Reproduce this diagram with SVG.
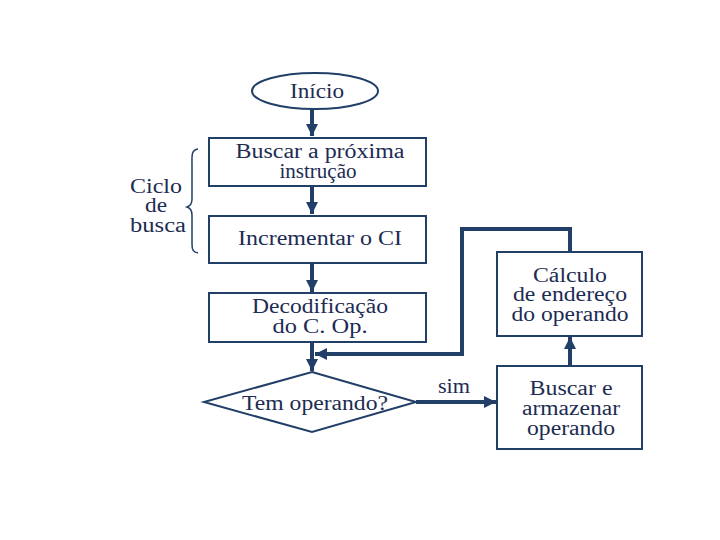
<svg xmlns="http://www.w3.org/2000/svg" width="720" height="540" viewBox="0 0 720 540">
<style>
.n{fill:#ffffff;stroke:#223f68;stroke-width:2}
.c{fill:none;stroke:#223f68;stroke-width:4}
</style>
<defs>
<marker id="ah" viewBox="0 0 10 10" refX="10" refY="5" markerWidth="3" markerHeight="3" markerUnits="strokeWidth" orient="auto">
<path d="M0,0 L10,5 L0,10 z" fill="#223f68"/>
</marker>
</defs>
<rect width="720" height="540" fill="#ffffff"/>
<g id="connectors">
<line class="c" x1="312" y1="109" x2="312" y2="136" marker-end="url(#ah)"/>
<line class="c" x1="312" y1="186" x2="312" y2="214" marker-end="url(#ah)"/>
<line class="c" x1="312" y1="263" x2="312" y2="292" marker-end="url(#ah)"/>
<line class="c" x1="312" y1="342" x2="312" y2="371" marker-end="url(#ah)"/>
<polyline class="c" points="570,252 570,229 462,229 462,354 315,354" marker-end="url(#ah)"/>
<line class="c" x1="416" y1="402" x2="496" y2="402" marker-end="url(#ah)"/>
<line class="c" x1="570" y1="366" x2="570" y2="337" marker-end="url(#ah)"/>
<path d="M198,149 C191,150 192,156 192,165 L192,199 C192,204 190,206 187,207 C190,208 192,210 192,215 L192,244 C192,250 193,252 198,253" fill="none" stroke="#223f68" stroke-width="1.5"/>
</g>
<g font-family="Liberation Serif" font-size="20" fill="#1d2c52" text-anchor="middle" lengthAdjust="spacingAndGlyphs">
<g id="inicio">
<ellipse class="n" cx="315" cy="91" rx="63" ry="18"/>
<text x="317" y="98" textLength="54" lengthAdjust="spacingAndGlyphs">Início</text>
</g>
<g id="buscar">
<rect class="n" x="209" y="138" width="217" height="48"/>
<text x="320" y="158" textLength="169" lengthAdjust="spacingAndGlyphs">Buscar a próxima</text>
<text x="318" y="178" textLength="77" lengthAdjust="spacingAndGlyphs">instrução</text>
</g>
<g id="incrementar">
<rect class="n" x="209" y="216" width="217" height="47"/>
<text x="320" y="245" textLength="164" lengthAdjust="spacingAndGlyphs">Incrementar o CI</text>
</g>
<g id="decodificacao">
<rect class="n" x="209" y="293" width="217" height="49"/>
<text x="320" y="313" textLength="136" lengthAdjust="spacingAndGlyphs">Decodificação</text>
<text x="320" y="333" textLength="95" lengthAdjust="spacingAndGlyphs">do C. Op.</text>
</g>
<g id="tem">
<polygon class="n" points="312,372 416,402 312,432 204,402"/>
<text x="315" y="410" textLength="146" lengthAdjust="spacingAndGlyphs">Tem operando?</text>
</g>
<g id="calculo">
<rect class="n" x="497" y="252" width="145" height="84"/>
<text x="570" y="282" textLength="74" lengthAdjust="spacingAndGlyphs">Cálculo</text>
<text x="570" y="301" textLength="114" lengthAdjust="spacingAndGlyphs">de endereço</text>
<text x="570" y="321" textLength="117" lengthAdjust="spacingAndGlyphs">do operando</text>
</g>
<g id="armazenar">
<rect class="n" x="497" y="366" width="145" height="83"/>
<text x="571" y="395" textLength="83" lengthAdjust="spacingAndGlyphs">Buscar e</text>
<text x="571" y="415" textLength="98" lengthAdjust="spacingAndGlyphs">armazenar</text>
<text x="571" y="435" textLength="88" lengthAdjust="spacingAndGlyphs">operando</text>
</g>
<g id="labels">
<text x="454" y="393" textLength="32" lengthAdjust="spacingAndGlyphs">sim</text>
<text x="156" y="193" textLength="52" lengthAdjust="spacingAndGlyphs">Ciclo</text>
<text x="156" y="212" textLength="22" lengthAdjust="spacingAndGlyphs">de</text>
<text x="158" y="232" textLength="56" lengthAdjust="spacingAndGlyphs">busca</text>
</g>
</g>
</svg>
